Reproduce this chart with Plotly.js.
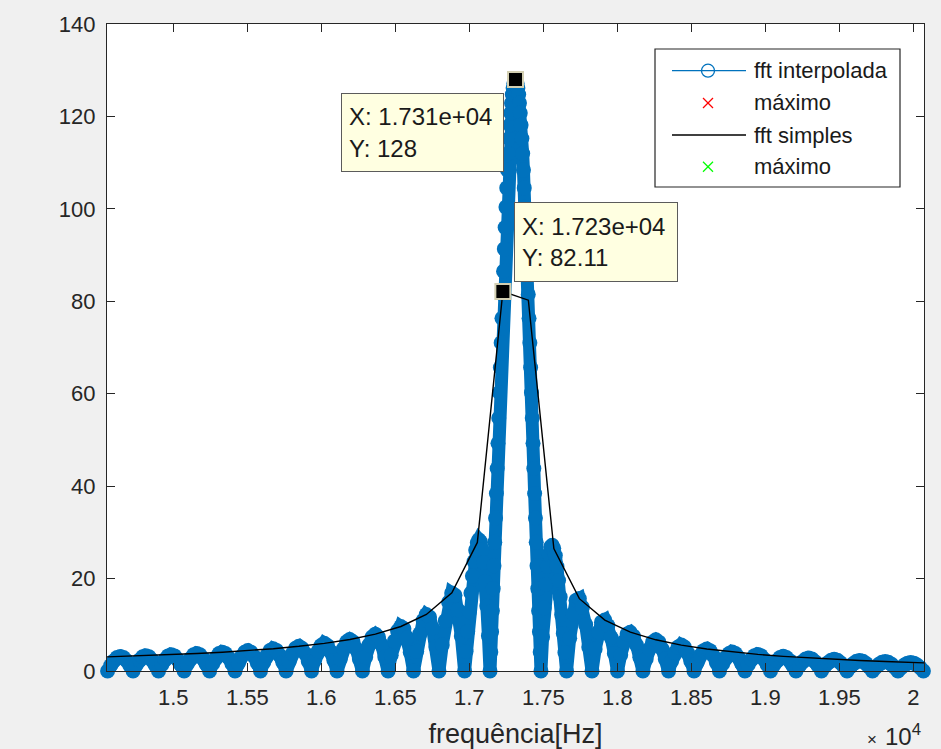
<!DOCTYPE html>
<html><head><meta charset="utf-8">
<script src="https://cdn.plot.ly/plotly-3.0.1.min.js"></script>
<style>html,body{margin:0;padding:0;background:#F0F0F0;}#chart{width:941px;height:749px;}</style>
</head><body><div id="chart"></div>
<script>
// ---- data ----
const interpFreqHz = [
14556,14577,14599,14620,14642,14663,14685,14706,
14728,14749,14771,14793,14814,14836,14857,14879,
14900,14922,14943,14965,14986,15008,15029,15051,
15073,15094,15116,15137,15159,15180,15202,15223,
15245,15266,15288,15309,15331,15352,15374,15396,
15417,15439,15460,15482,15503,15525,15546,15568,
15589,15611,15632,15654,15675,15697,15719,15740,
15762,15783,15805,15826,15848,15869,15891,15912,
15934,15955,15977,15998,16020,16041,16063,16085,
16106,16128,16149,16171,16192,16214,16235,16257,
16278,16300,16321,16343,16365,16386,16408,16429,
16451,16472,16494,16515,16537,16558,16580,16601,
16623,16644,16666,16688,16709,16731,16752,16774,
16795,16817,16838,16860,16881,16903,16924,16946,
16968,16978,16989,17000,17011,17021,17032,17043,17054,17064,17075,17086,17097,17107,17118,17129,
17139.7,17145.1,17150.5,17155.9,17161.2,17166.6,17172.0,17177.4,17182.8,17188.2,17193.5,17198.9,17204.3,17209.7,17215.1,17220.5,
17225.8,17231.2,17236.6,17242.0,17247.4,17252.8,17258.1,17263.5,17268.9,17274.3,17279.7,17285.1,17290.4,17295.8,17301.2,17306.6,
17312.0,17317.4,17322.8,17328.2,17333.5,17338.9,17344.3,17349.7,17355.1,17360.5,17365.8,17371.2,17376.6,17382.0,17387.4,17392.8,
17398.1,17403.5,17408.9,17414.3,17419.7,17425.1,17430.4,17435.8,17441.2,17446.6,17452.0,17457.4,17462.7,17468.1,17473.5,17478.9,
17484,17495,17506,17517,17527,17538,17549,17560,17570,17581,17592,17603,17614,17624,17635,17646,
17657,17678,17700,17721,17743,17764,17786,17807,
17829,17850,17872,17893,17915,17936,17958,17980,
18001,18023,18044,18066,18087,18109,18130,18152,
18173,18195,18216,18238,18260,18281,18303,18324,
18346,18367,18389,18410,18432,18453,18475,18496,
18518,18539,18561,18583,18604,18626,18647,18669,
18690,18712,18733,18755,18776,18798,18819,18841,
18862,18884,18905,18927,18949,18970,18992,19013,
19035,19056,19078,19099,19121,19142,19164,19185,
19207,19229,19250,19272,19293,19315,19336,19358,
19379,19401,19422,19444,19465,19487,19508,19530,
19552,19573,19595,19616,19638,19659,19681,19702,
19724,19745,19767,19788,19810,19831,19853,19875,
19896,19918,19939,19961,19982,20004,20025,20047,
20068];
const interpMag = [
0,1.20,2.22,2.90,3.14,2.90,2.22,1.20,
0,1.27,2.35,3.07,3.32,3.07,2.35,1.27,
0,1.36,2.50,3.27,3.54,3.27,2.50,1.36,
0,1.45,2.67,3.49,3.78,3.49,2.67,1.45,
0,1.56,2.88,3.76,4.07,3.76,2.88,1.56,
0,1.69,3.12,4.07,4.41,4.07,3.12,1.69,
0,1.85,3.41,4.46,4.83,4.46,3.41,1.85,
0,2.05,3.78,4.93,5.34,4.93,3.78,2.05,
0,2.29,4.23,5.53,5.98,5.53,4.23,2.29,
0,2.62,4.83,6.31,6.83,6.31,4.83,2.62,
0,3.05,5.63,7.36,7.97,7.36,5.63,3.05,
0,3.41,6.46,8.66,9.61,9.13,7.18,3.99,
0,4.25,8.08,10.92,12.21,11.68,9.26,5.21,
0,5.65,10.88,14.88,16.88,16.39,13.21,7.56,
0,4.22,8.55,12.82,16.88,20.57,23.71,26.16,27.75,28.38,27.93,26.30,23.47,19.39,14.09,7.60,
0,4.12,8.48,13.05,17.82,22.76,27.86,33.08,38.41,43.82,49.28,54.75,60.23,65.67,71.04,76.32,
81.49,86.50,91.34,95.97,100.38,104.53,108.41,111.98,115.24,118.16,120.73,122.92,124.74,126.16,127.18,127.79,
128,127.79,127.18,126.16,124.74,122.92,120.73,118.16,115.24,111.98,108.41,104.53,100.38,95.97,91.34,86.50,
81.49,76.32,71.04,65.67,60.23,54.75,49.28,43.82,38.41,33.08,27.86,22.76,17.82,13.05,8.48,4.12,
0,7.36,13.63,18.72,22.62,25.30,26.82,27.20,26.55,24.98,22.60,19.57,16.03,12.15,8.09,3.98,
0,7.10,12.36,15.28,15.68,13.77,10.03,5.19,
0,4.75,8.41,10.57,11.01,9.81,7.23,3.79,
0,3.53,6.32,8.01,8.40,7.54,5.60,2.95,
0,2.59,4.77,6.24,6.75,6.24,4.77,2.59,
0,2.14,3.96,5.17,5.60,5.17,3.96,2.14,
0,1.82,3.37,4.40,4.76,4.40,3.37,1.82,
0,1.57,2.91,3.80,4.11,3.80,2.91,1.57,
0,1.37,2.54,3.32,3.59,3.32,2.54,1.37,
0,1.21,2.24,2.93,3.17,2.93,2.24,1.21,
0,1.08,1.99,2.61,2.82,2.61,1.99,1.08,
0,0.97,1.78,2.33,2.52,2.33,1.78,0.97,
0,0.87,1.60,2.09,2.26,2.09,1.60,0.87,
0,0.78,1.44,1.88,2.04,1.88,1.44,0.78,
0,0.70,1.30,1.70,1.84,1.70,1.30,0.70,
0];
const simpleFreqHz = [14470.3,14642.6,14814.8,14987.1,15159.4,15331.6,15503.9,15676.2,15848.4,16020.7,16193.0,16365.2,16537.5,16709.8,16882.0,17054.3,17226.6,17398.8,17571.1,17743.4,17915.6,18087.9,18260.2,18432.4,18604.7,18777.0,18949.2,19121.5,19293.8,19466.0,19638.3,19810.5,19982.8,20155.1];
const simpleMag = [2.97,3.14,3.32,3.54,3.78,4.07,4.41,4.83,5.34,5.98,6.83,7.97,9.63,12.23,16.91,27.82,82.11,80.24,26.48,15.65,11.00,8.41,6.75,5.60,4.76,4.11,3.59,3.17,2.82,2.52,2.26,2.04,1.84,1.66];
const interpMaxHz = [17312];
const interpMaxMag = [128];
const simpleMaxHz = [17226.6];
const simpleMaxMag = [82.11];
const xTickVals = [15000,15500,16000,16500,17000,17500,18000,18500,19000,19500,20000];
const xTickText = ['1.5','1.55','1.6','1.65','1.7','1.75','1.8','1.85','1.9','1.95','2'];
const yTickVals = [0,20,40,60,80,100,120,140];
const legendNames = ['fft interpolada','máximo','fft simples','máximo'];

// ---- styling / layout ----
const FONT = 'Liberation Sans, Arial, Helvetica, sans-serif';
const INK = '#262626';
const BLUE = '#0072BD';
const PL = 107, PR = 924, PT = 24, PB = 671;
const px = v => (v - PL) / (PR - PL);
const py = v => (PB - v) / (PB - PT);

function fmtX(v){ return v.toExponential(3).replace(/e\+(\d)$/, 'e+0$1'); }

const traces = [
  {x: interpFreqHz, y: interpMag, type:'scatter', mode:'lines+markers', name: legendNames[0],
   line:{color:BLUE, width:13}, marker:{symbol:'circle', size:15, color:BLUE},
   cliponaxis:false, hoverinfo:'skip'},
  {x: interpMaxHz, y: interpMaxMag, type:'scatter', mode:'markers', name: legendNames[1],
   marker:{symbol:'x-thin-open', size:12, line:{color:'#FF0000', width:1.5}}, cliponaxis:false},
  {x: simpleFreqHz, y: simpleMag, type:'scatter', mode:'lines', name: legendNames[2],
   line:{color:'#000000', width:1.4}},
  {x: simpleMaxHz, y: simpleMaxMag, type:'scatter', mode:'markers', name: legendNames[3],
   marker:{symbol:'x-thin-open', size:12, line:{color:'#00FF00', width:1.5}}, cliponaxis:false},
  {x: interpMaxHz.concat(simpleMaxHz), y: interpMaxMag.concat(simpleMaxMag), type:'scatter', mode:'markers',
   showlegend:false, marker:{symbol:'square', size:15, color:'#000000', line:{color:'#D3CFB2', width:2}}, cliponaxis:false}
];

const tipFont = {family: FONT, size: 24, color: '#1a1a1a'};
const annotations = [
  {x: interpMaxHz[0], y: interpMaxMag[0], xref:'x', yref:'y', showarrow:false,
   text: 'X: ' + fmtX(interpMaxHz[0]) + '<br>Y: ' + interpMaxMag[0],
   xanchor:'right', yanchor:'top', xshift:-12, yshift:-14, width:147, height:63,
   align:'left', valign:'middle', borderpad:7, bgcolor:'#FFFFE1', bordercolor:'#5b5b5b', borderwidth:1, font: tipFont},
  {x: simpleMaxHz[0], y: simpleMaxMag[0], xref:'x', yref:'y', showarrow:false,
   text: 'X: ' + fmtX(simpleMaxHz[0]) + '<br>Y: ' + simpleMaxMag[0],
   xanchor:'left', yanchor:'bottom', xshift:11, yshift:10, width:148, height:64,
   align:'left', valign:'middle', borderpad:7, bgcolor:'#FFFFE1', bordercolor:'#5b5b5b', borderwidth:1, font: tipFont},
  {x: px(879), y: py(739), xref:'paper', yref:'paper', showarrow:false, xanchor:'right', yanchor:'middle',
   text:'×', font:{family:FONT, size:17, color:INK}},
  {x: px(923), y: py(735), xref:'paper', yref:'paper', showarrow:false, xanchor:'right', yanchor:'middle',
   text:'10<sup>4</sup>', font:{family:FONT, size:24, color:INK}}
];
// manual legend (MATLAB style)
const legRows = [70.7, 103, 135, 166.7];
legendNames.forEach((n,i) => annotations.push({x: px(752), y: py(legRows[i]), xref:'paper', yref:'paper',
  showarrow:false, xanchor:'left', yanchor:'middle', text:n, font:{family:FONT, size:22, color:'#1a1a1a'}}));

const shapes = [
  {type:'rect', xref:'paper', yref:'paper', x0:px(655), x1:px(900), y0:py(49), y1:py(187),
   fillcolor:'#FFFFFF', line:{color:INK, width:1.2}, layer:'above'},
  {type:'line', xref:'paper', yref:'paper', x0:px(672), x1:px(746), y0:py(legRows[0]), y1:py(legRows[0]),
   line:{color:BLUE, width:1.3}, layer:'above'},
  {type:'circle', xref:'paper', yref:'paper', x0:px(701.5), x1:px(714.5), y0:py(legRows[0]-6.5), y1:py(legRows[0]+6.5),
   line:{color:BLUE, width:1.3}, layer:'above'},
  {type:'line', xref:'paper', yref:'paper', x0:px(703), x1:px(713), y0:py(legRows[1]-5), y1:py(legRows[1]+5), line:{color:'#FF0000', width:1.3}, layer:'above'},
  {type:'line', xref:'paper', yref:'paper', x0:px(703), x1:px(713), y0:py(legRows[1]+5), y1:py(legRows[1]-5), line:{color:'#FF0000', width:1.3}, layer:'above'},
  {type:'line', xref:'paper', yref:'paper', x0:px(672), x1:px(746), y0:py(legRows[2]), y1:py(legRows[2]),
   line:{color:'#000000', width:1.3}, layer:'above'},
  {type:'line', xref:'paper', yref:'paper', x0:px(703), x1:px(713), y0:py(legRows[3]-5), y1:py(legRows[3]+5), line:{color:'#00FF00', width:1.3}, layer:'above'},
  {type:'line', xref:'paper', yref:'paper', x0:px(703), x1:px(713), y0:py(legRows[3]+5), y1:py(legRows[3]-5), line:{color:'#00FF00', width:1.3}, layer:'above'}
];

const axisCommon = {showline:true, linecolor:INK, linewidth:1.2, mirror:'ticks', ticks:'inside', ticklen:8,
  tickwidth:1.2, tickcolor:INK, showgrid:false, zeroline:false, automargin:false,
  tickfont:{family:FONT, size:22, color:INK}};

const layout = {
  width:941, height:749, paper_bgcolor:'#F0F0F0', plot_bgcolor:'#FFFFFF',
  margin:{l:PL, r:941-PR, t:PT, b:749-PB, pad:0},
  showlegend:false,
  xaxis: Object.assign({}, axisCommon, {range:[14552,20072], tickmode:'array', tickvals:xTickVals, ticktext:xTickText,
    ticklabelstandoff:6,
    title:{text:'frequência[Hz]', font:{family:FONT, size:27, color:INK}, standoff:19}}),
  yaxis: Object.assign({}, axisCommon, {range:[0,140], tickmode:'array', tickvals:yTickVals, ticklabelstandoff:6}),
  annotations: annotations,
  shapes: shapes,
  font:{family:FONT, color:INK}
};

Plotly.newPlot('chart', traces, layout, {staticPlot:true, displayModeBar:false});
</script>
</body></html>
